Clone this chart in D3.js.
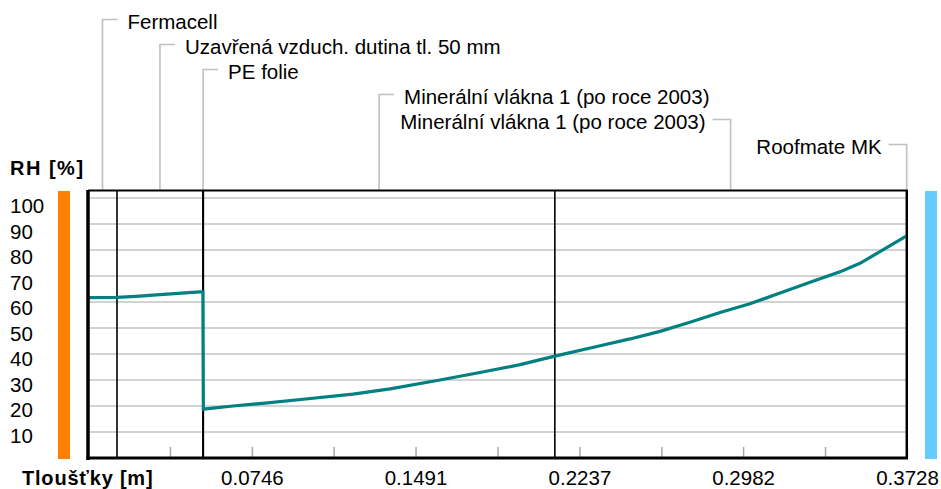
<!DOCTYPE html>
<html>
<head>
<meta charset="utf-8">
<script src="https://cdn.jsdelivr.net/npm/d3@7"></script>
<style>
  body { margin: 0; background: #fff; }
  text { font-family: "Liberation Sans", Arial, sans-serif; fill: #000; }
</style>
</head>
<body>
<div id="chart"></div>
<script>
// vrstvy konstrukce
const layerNames = ["Fermacell", "Uzavřená vzduch. dutina tl. 50 mm", "PE folie",
  "Minerální vlákna 1 (po roce 2003)", "Minerální vlákna 1 (po roce 2003)", "Roofmate MK"];
const layerBounds = [0, 0.0132, 0.0523, 0.0525, 0.2125, 0.3725, 0.3728];

// průběh RH
const rhX = [0, 0.0132, 0.0218, 0.0360, 0.0492, 0.0523, 0.0525, 0.0660, 0.0806, 0.0979,
  0.1206, 0.1375, 0.1602, 0.1784, 0.1967, 0.2125, 0.2331, 0.2467, 0.2604, 0.2740,
  0.2877, 0.3013, 0.3150, 0.3287, 0.3423, 0.3514, 0.3605, 0.3728];
const rhVal = [61.7, 61.8, 62.2, 63.0, 63.8, 64.0, 18.8, 20.0, 21.1, 22.6,
  24.6, 26.6, 30.0, 32.9, 35.9, 39.2, 43.2, 45.8, 48.7, 52.2,
  56.0, 59.3, 63.5, 67.6, 71.6, 74.9, 79.4, 85.5];

const yTicks = [10, 20, 30, 40, 50, 60, 70, 80, 90, 100];
const xTicks = [0.0373, 0.0746, 0.1118, 0.1491, 0.1864, 0.2237, 0.2610, 0.2982, 0.3355, 0.3728];
const xTickLabels = ["", "0.0746", "", "0.1491", "", "0.2237", "", "0.2982", "", "0.3728"];

const width = 941, height = 489;
const pLeft = 88, pRight = 907, pTop = 191, pBottom = 458;

const svg = d3.select("#chart").append("svg")
  .attr("width", width).attr("height", height);

const x = d3.scaleLinear().domain([0, 0.3728]).range([pLeft, pRight]);
const y = d3.scaleLinear().domain([0, 102.7]).range([pBottom, pTop]);
const yLab = d3.scaleLinear().domain([10, 100]).range([443, 213]);

// barevné pruhy (interiér / exteriér)
svg.append("rect").attr("x", 58).attr("y", pTop).attr("width", 12).attr("height", pBottom - pTop + 1)
  .attr("fill", "#ff8000");
svg.append("rect").attr("x", 925).attr("y", pTop).attr("width", 12).attr("height", pBottom - pTop + 1)
  .attr("fill", "#66ccff");

// mřížka
svg.append("g").selectAll("line").data(yTicks).enter().append("line")
  .attr("x1", pLeft).attr("x2", pRight)
  .attr("y1", d => y(d)).attr("y2", d => y(d))
  .attr("stroke", "#c4c4c4").attr("stroke-width", 1.6);

// osa x
const xAxis = d3.axisBottom(x)
  .tickValues(xTicks)
  .tickFormat((d, i) => xTickLabels[i])
  .tickSizeInner(-10).tickSizeOuter(0);
const gx = svg.append("g").attr("transform", "translate(0," + (pBottom - 1) + ")").call(xAxis);
gx.select(".domain").remove();
gx.selectAll(".tick line").attr("stroke", "#a8a8a8").attr("stroke-width", 1.5);
gx.selectAll(".tick text").attr("y", 28).attr("dy", null)
  .attr("font-size", 20.5).attr("font-family", "Liberation Sans, Arial, sans-serif");

// popisky osy y
svg.append("g").selectAll("text").data(yTicks).enter().append("text")
  .attr("x", 10).attr("y", d => yLab(d))
  .attr("font-size", 20.5)
  .text(d => d);

// hranice vrstev
const inner = layerBounds.slice(1, -1);
svg.append("g").selectAll("line").data(inner).enter().append("line")
  .attr("x1", d => x(d)).attr("x2", d => x(d))
  .attr("y1", pTop).attr("y2", pBottom)
  .attr("stroke", "#000").attr("stroke-width", 1.6);

// odkazy na názvy vrstev
const layers = layerNames.map((name, i) => ({
  name: name,
  mid: (layerBounds[i] + layerBounds[i + 1]) / 2,
  level: 19.5 + i * 25,
  toLeft: i >= 4
}));
const lab = svg.append("g").selectAll("g").data(layers).enter().append("g");
lab.append("polyline")
  .attr("points", d => {
    const lx = x(d.mid);
    const hx = d.toLeft ? lx - 18 : lx + 15;
    return [[hx, d.level], [lx, d.level], [lx, pTop]].join(" ");
  })
  .attr("fill", "none").attr("stroke", "#c0c0c0").attr("stroke-width", 1.6);
lab.append("text")
  .attr("x", d => d.toLeft ? x(d.mid) - 25 : x(d.mid) + 25)
  .attr("y", d => d.level + 9)
  .attr("text-anchor", d => d.toLeft ? "end" : "start")
  .attr("font-size", 20.5)
  .text(d => d.name);

// křivka RH
const line = d3.line()
  .x(d => x(d[0]))
  .y(d => y(d[1]));
svg.append("path")
  .datum(rhX.map((v, i) => [v, rhVal[i]]))
  .attr("d", line)
  .attr("fill", "none").attr("stroke", "#008080").attr("stroke-width", 3.2)
  .attr("stroke-linejoin", "miter");

// rám grafu
svg.append("line").attr("x1", pLeft).attr("x2", pRight + 1).attr("y1", pTop - 0.5).attr("y2", pTop - 0.5)
  .attr("stroke", "#000").attr("stroke-width", 2);
svg.append("line").attr("x1", pRight).attr("x2", pRight).attr("y1", pTop - 1).attr("y2", pBottom)
  .attr("stroke", "#000").attr("stroke-width", 2);
svg.append("line").attr("x1", pLeft).attr("x2", pLeft).attr("y1", pTop - 1).attr("y2", pBottom + 2)
  .attr("stroke", "#000").attr("stroke-width", 3.5);
svg.append("line").attr("x1", pLeft - 1.5).attr("x2", pRight + 1).attr("y1", pBottom).attr("y2", pBottom)
  .attr("stroke", "#000").attr("stroke-width", 3);

// názvy os
svg.append("text").attr("x", 10).attr("y", 175)
  .attr("font-size", 20).attr("font-weight", "bold").attr("letter-spacing", 1.5)
  .text("RH [%]");
svg.append("text").attr("x", 22).attr("y", 485)
  .attr("font-size", 20).attr("font-weight", "bold").attr("letter-spacing", 0.8)
  .text("Tloušťky [m]");
</script>
</body>
</html>
